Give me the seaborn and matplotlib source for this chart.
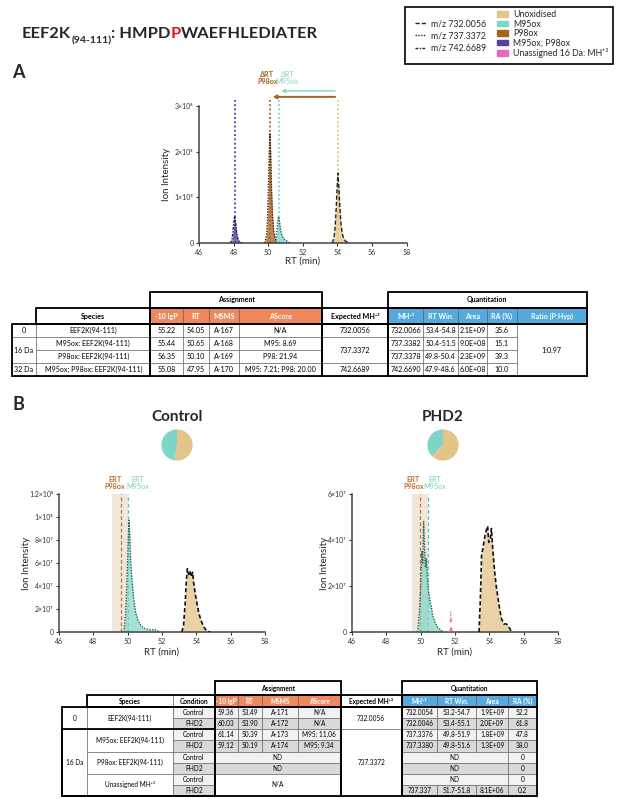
import numpy as np
import matplotlib
matplotlib.use("Agg")
import matplotlib.pyplot as plt
import seaborn as sns
from matplotlib.patches import Rectangle, Patch
from matplotlib.lines import Line2D

sns.set_style("ticks")
plt.rcParams["font.family"] = ["Lato", "DejaVu Sans"]

# ---------------- colours ----------------
col_unox = "#E3C489"
col_m95 = "#80D5C8"
col_p98 = "#A9621F"
col_double = "#5A3F9D"
col_unass = "#E56BBA"

# ---------------- chromatograms (intensity in units of 1e7) ----------------
SCALE = 1e7

# A: in vitro
a_double_rt = [47.80, 47.90, 47.96, 48.00, 48.06, 48.12, 48.17, 48.24, 48.35, 48.50]
a_double_int = [0.0, 0.5, 2.2, 4.2, 5.9, 4.3, 2.4, 0.9, 0.2, 0.0]
a_p98_rt = [49.80, 49.90, 49.96, 50.01, 50.06, 50.10, 50.14, 50.19, 50.25, 50.32, 50.40, 50.50]
a_p98_int = [0.0, 1.5, 5.0, 12.0, 20.0, 24.1, 20.0, 12.0, 6.0, 2.5, 1.0, 0.3]
a_m95_rt = [50.38, 50.45, 50.50, 50.55, 50.60, 50.65, 50.71, 50.78, 50.88, 51.00, 51.10, 51.25]
a_m95_int = [0.0, 1.0, 2.5, 4.5, 5.8, 4.8, 3.0, 1.8, 1.0, 0.6, 0.4, 0.0]
a_unox_rt = [53.70, 53.80, 53.87, 53.93, 53.98, 54.03, 54.08, 54.14, 54.20, 54.28, 54.38, 54.50, 54.70]
a_unox_int = [0.0, 1.0, 3.5, 7.5, 12.0, 15.3, 12.5, 8.0, 4.5, 2.0, 0.8, 0.3, 0.0]
a_peak_rt = [48.06, 50.10, 50.60, 54.03]
a_delta_end = {"P98ox": 50.10, "M95ox": 50.60}

# B: Control
c_m95_rt = [49.78, 49.88, 49.95, 50.02, 50.08, 50.12, 50.18, 50.25, 50.33, 50.45,
            50.60, 50.80, 51.00, 51.30, 51.60, 51.90]
c_m95_int = [0.0, 1.5, 4.0, 7.5, 9.7, 8.5, 6.0, 4.5, 3.2, 1.8, 1.0, 0.5, 0.3, 0.2, 0.2, 0.0]
c_unox_rt = [53.15, 53.25, 53.35, 53.42, 53.48, 53.55, 53.62, 53.70, 53.78, 53.85,
             53.95, 54.05, 54.15, 54.30, 54.45, 54.60, 54.80]
c_unox_int = [0.0, 0.5, 2.5, 4.5, 5.5, 5.0, 5.3, 4.8, 5.2, 4.2, 3.2, 2.4, 1.6, 0.9, 0.4, 0.1, 0.0]
c_ert = {"P98ox": 49.59, "M95ox": 50.04}
c_band = (49.09, 50.04)

# B: PHD2
p_m95_rt = [49.82, 49.92, 50.00, 50.07, 50.12, 50.17, 50.22, 50.28, 50.33, 50.38,
            50.45, 50.55, 50.62, 50.70, 50.85, 51.00, 51.30]
p_m95_int = [0.0, 0.8, 2.0, 3.5, 3.0, 4.8, 3.8, 2.8, 3.2, 2.5, 1.8, 1.3, 1.1, 0.7, 0.4, 0.2, 0.0]
p_unox_rt = [53.40, 53.48, 53.55, 53.62, 53.70, 53.78, 53.85, 53.90, 53.97, 54.05,
             54.12, 54.20, 54.30, 54.40, 54.50, 54.60, 54.70, 54.85, 55.00, 55.15, 55.30]
p_unox_int = [0.0, 1.5, 3.4, 3.6, 4.0, 4.3, 4.5, 4.6, 3.9, 4.0, 4.5, 3.6, 2.7, 2.0,
              1.5, 1.0, 0.6, 0.35, 0.35, 0.2, 0.0]
p_unass_rt = [51.65, 51.72, 51.78, 51.85]
p_unass_int = [0.0, 0.1, 0.2, 0.0]
p_unass_mark = 51.75
p_ert = {"P98ox": 49.96, "M95ox": 50.42}
p_band = (49.47, 50.44)

# pies (RA %)
pie_control = [47.8, 52.2]
pie_phd2 = [38.0, 61.8, 0.2]

# ---------------- table A ----------------
a_group = ["0", "16 Da", "32 Da"]
a_species = ["EEF2K(94-111)", "M95ox: EEF2K(94-111)", "P98ox: EEF2K(94-111)",
             "M95ox; P98ox: EEF2K(94-111)"]
a_lgp = ["55.22", "55.44", "56.35", "55.08"]
a_rt = ["54.05", "50.65", "50.10", "47.95"]
a_msms = ["A-167", "A-168", "A-169", "A-170"]
a_ascore = ["N/A", "M95: 8.69", "P98: 21.94", "M95: 7.21; P98: 20.00"]
a_expected = ["732.0056", "737.3372", "742.6689"]
a_mh = ["732.0066", "737.3382", "737.3378", "742.6690"]
a_rtwin = ["53.4-54.8", "50.4-51.5", "49.8-50.4", "47.9-48.6"]
a_area = ["2.1E+09", "9.0E+08", "2.3E+09", "6.0E+08"]
a_ra = ["35.6", "15.1", "39.3", "10.0"]
a_ratio = "1:0.97"
a_assign_cols = ["-10 lgP", "RT", "MSMS", "AScore"]
a_quant_cols = ["MH\u207a\u00b3", "RT Win.", "Area", "RA (%)", "Ratio (P:Hyp)"]

# ---------------- table B ----------------
b_group = ["0", "16 Da"]
b_species = ["EEF2K(94-111)", "M95ox: EEF2K(94-111)", "P98ox: EEF2K(94-111)",
             "Unassigned MH\u207a\u00b3"]
b_condition = ["Control", "PHD2"] * 4
b_lgp = ["59.36", "60.03", "61.14", "59.12"]
b_rt = ["53.49", "53.90", "50.39", "50.19"]
b_msms = ["A-171", "A-172", "A-173", "A-174"]
b_ascore = ["N/A", "N/A", "M95: 11.06", "M95: 9.34"]
b_expected = ["732.0056", "737.3372"]
b_mh = ["732.0054", "732.0046", "737.3376", "737.3380", "ND", "ND", "ND", "737.337"]
b_rtwin = ["53.2-54.7", "53.4-55.1", "49.8-51.9", "49.8-51.6", "", "", "", "51.7-51.8"]
b_area = ["1.9E+09", "2.0E+09", "1.8E+09", "1.3E+09", "", "", "", "8.1E+06"]
b_ra = ["52.2", "61.8", "47.8", "38.0", "0", "0", "0", "0.2"]
b_assign_cols = ["-10 lgP", "RT", "MSMS", "AScore"]
b_quant_cols = ["MH\u207a\u00b3", "RT Win.", "Area", "RA (%)"]

# ---------------- figure ----------------
W, H = 617, 799
fig = plt.figure(figsize=(W / 100, H / 100), dpi=100)
ov = fig.add_axes([0, 0, 1, 1])
ov.set_xlim(0, W)
ov.set_ylim(H, 0)
ov.axis("off")


def px_rect(x0, y0, x1, y1):
    return [x0 / W, 1 - y1 / H, (x1 - x0) / W, (y1 - y0) / H]


# title
TS = 11.8
t1 = ov.text(22, 38, "EEF2K", fontsize=TS, fontweight="bold", va="baseline")
t2 = ov.annotate("(94-111)", xy=(1, 0), xycoords=t1, xytext=(0, 3.5),
                 textcoords="offset points", fontsize=7.5, fontweight="bold", va="top")
t3 = ov.annotate(": HMPD", xy=(1, 0), xycoords=(t2, t1), fontsize=TS,
                 fontweight="bold", va="bottom")
t4 = ov.annotate("P", xy=(1, 0), xycoords=t3, fontsize=TS, fontweight="bold",
                 va="bottom", color="#E8141B")
ov.annotate("WAEFHLEDIATER", xy=(1, 0), xycoords=t4, fontsize=TS,
            fontweight="bold", va="bottom")

ov.text(12, 73, "A", fontsize=13, fontweight="bold", va="center")
ov.text(12, 405, "B", fontsize=13, fontweight="bold", va="center")

# legend
ov.add_patch(Rectangle((405, 7), 208, 57, fill=False, ec="black", lw=1.2))
line_handles = [
    Line2D([], [], color="#222", lw=1, ls=(0, (3, 1.5))),
    Line2D([], [], color="#222", lw=1, ls=(0, (1, 1))),
    Line2D([], [], color="#222", lw=1, ls=(0, (2, 1, 1, 1))),
]
leg1 = ov.legend(line_handles, ["m/z 732.0056", "m/z 737.3372", "m/z 742.6689"],
                 loc="center left", bbox_to_anchor=(415, 36), bbox_transform=ov.transData,
                 frameon=False, fontsize=6.3, handlelength=1.2, handletextpad=0.6,
                 labelspacing=0.35, borderpad=0, borderaxespad=0)
ov.add_artist(leg1)
patch_handles = [Patch(color=c) for c in [col_unox, col_m95, col_p98, col_double, col_unass]]
ov.legend(patch_handles, ["Unoxidised", "M95ox", "P98ox", "M95ox; P98ox",
                          "Unassigned 16 Da: MH\u207a\u00b3"],
          loc="center left", bbox_to_anchor=(497, 34), bbox_transform=ov.transData,
          frameon=False, fontsize=6.3, handlelength=1.2, handleheight=0.6,
          handletextpad=0.6, labelspacing=0.05, borderpad=0, borderaxespad=0)


def style_chart(ax, top, ticks, labels, ylab_x, xlab_y):
    ax.set_xlim(46, 58)
    ax.set_ylim(0, top)
    ax.set_xticks(range(46, 59, 2))
    ax.set_yticks(ticks)
    ax.set_yticklabels(labels)
    ax.tick_params(labelsize=5, length=2.5, width=0.8, pad=1.5, colors="#333")
    for s in ["left", "bottom"]:
        ax.spines[s].set_linewidth(1.1)
        ax.spines[s].set_color("#444")
    sns.despine(ax=ax)
    ax.set_xlabel("RT (min)", fontsize=7)
    ax.set_ylabel("Ion Intensity", fontsize=7)
    ax.yaxis.set_label_coords(ylab_x, 0.5)
    ax.xaxis.set_label_coords(0.5, xlab_y)
    ax.patch.set_alpha(0)


def trace(ax, rt, inten, fill, edge, ls, lw=1.0, alpha=0.75):
    y = np.array(inten) * SCALE
    ax.fill_between(rt, 0, y, color=fill, alpha=alpha, lw=0, zorder=2)
    sns.lineplot(x=rt, y=y, ax=ax, color=edge, linestyle=ls, lw=lw,
                 estimator=None, sort=False, zorder=3)


# ---- panel A chart ----
axA = fig.add_axes(px_rect(199, 106, 406.6, 243))
line_cols = [col_double, col_p98, col_m95, col_unox]
for rt0, c in zip(a_peak_rt, line_cols):
    axA.axvline(rt0, ymin=0, ymax=1.045, color=c, ls=(0, (1, 1.2)), lw=1.4,
                clip_on=False, zorder=1, alpha=0.9)
trace(axA, a_double_rt, a_double_int, col_double, "#2a2050", (0, (2, 1, 1, 1)))
trace(axA, a_p98_rt, a_p98_int, col_p98, "#3b2a18", (0, (1, 1)))
trace(axA, a_m95_rt, a_m95_int, col_m95, "#2f5f55", (0, (1, 1)))
trace(axA, a_unox_rt, a_unox_int, col_unox, "#222", (0, (3, 1.5)))
style_chart(axA, 3e8, [0, 1e8, 2e8, 3e8],
            ["0", "1\u00d710\u2078", "2\u00d710\u2078", "3\u00d710\u2078"], -0.135, -0.10)
axA.annotate("", xy=(a_delta_end["M95ox"], 3.33e8), xytext=(a_peak_rt[3], 3.33e8),
             arrowprops=dict(arrowstyle="-|>", color=col_m95, lw=1.0, mutation_scale=5),
             annotation_clip=False)
axA.annotate("", xy=(a_delta_end["P98ox"], 3.2e8), xytext=(a_peak_rt[3], 3.2e8),
             arrowprops=dict(arrowstyle="-|>", color=col_p98, lw=1.4, mutation_scale=5),
             annotation_clip=False)
axA.text(49.95, 3.47e8, "\u0394RT\nP98ox", color=col_p98, fontsize=5.2, ha="center",
         va="bottom", fontweight="bold", linespacing=1.0, clip_on=False)
axA.text(51.1, 3.47e8, "\u0394RT\nM95ox", color=col_m95, fontsize=5.2, ha="center",
         va="bottom", linespacing=1.0, clip_on=False)


# ---- panel B charts ----
def panel_b(rect, top, ticks, labels, band, ert, txt_x, m95, unox, ylab_x, unass=None):
    ax = fig.add_axes(rect)
    ax.axvspan(band[0], band[1], color="#F1E6DB", zorder=0, lw=0)
    ax.axvline(ert["P98ox"], color="#C8742E", ls=(0, (3, 2)), lw=0.9, zorder=1)
    ax.axvline(ert["M95ox"], color="#5FC4B4", ls=(0, (3, 2)), lw=0.9, zorder=1)
    trace(ax, m95[0], m95[1], col_m95, "#2f5f55", (0, (1, 1)), lw=1.0, alpha=0.7)
    trace(ax, unox[0], unox[1], col_unox, "#111", (0, (2.5, 1.5)), lw=1.2, alpha=0.75)
    if unass is not None:
        trace(ax, unass[0], unass[1], col_unass, col_unass, "-", lw=0.8)
        ax.annotate("", xy=(p_unass_mark, 0.25e7), xytext=(p_unass_mark, 1.0e7),
                    arrowprops=dict(arrowstyle="-|>", color=col_unass, lw=0.8,
                                    ls=":", mutation_scale=4))
    style_chart(ax, top, ticks, labels, ylab_x, -0.11)
    ax.text(txt_x[0], top * 1.03, "ERT\nP98ox", color="#C0702A", fontsize=5.2,
            ha="center", va="bottom", fontweight="bold", linespacing=1.0, clip_on=False)
    ax.text(txt_x[1], top * 1.03, "ERT\nM95ox", color="#7ECFC2", fontsize=5.2,
            ha="center", va="bottom", linespacing=1.0, clip_on=False)
    return ax


panel_b(px_rect(59, 494, 265, 632), 1.2e8, [0, 2e7, 4e7, 6e7, 8e7, 1e8, 1.2e8],
        ["0", "2\u00d710\u2077", "4\u00d710\u2077", "6\u00d710\u2077", "8\u00d710\u2077",
         "1\u00d710\u2078", "1.2\u00d710\u2078"],
        c_band, c_ert, (49.26, 50.6), (c_m95_rt, c_m95_int), (c_unox_rt, c_unox_int), -0.136)
panel_b(px_rect(352, 494, 558, 632), 6e7, [0, 2e7, 4e7, 6e7],
        ["0", "2\u00d710\u2077", "4\u00d710\u2077", "6\u00d710\u2077"],
        p_band, p_ert, (49.57, 50.83), (p_m95_rt, p_m95_int), (p_unox_rt, p_unox_int), -0.112,
        unass=(p_unass_rt, p_unass_int))

ov.text(177, 417, "Control", fontsize=11, fontweight="bold", ha="center", va="center")
ov.text(443, 417, "PHD2", fontsize=11, fontweight="bold", ha="center", va="center")

for cx, vals, cols in [(177, pie_control, [col_m95, col_unox]),
                       (443, pie_phd2, [col_m95, col_unox, col_unass])]:
    axp = fig.add_axes(px_rect(cx - 19.5, 445 - 19.5, cx + 19.5, 445 + 19.5))
    axp.pie(vals, colors=cols, startangle=90, counterclock=True,
            wedgeprops=dict(lw=0))
    axp.set_aspect("equal")


# ---------------- tables ----------------
ORANGE = "#F0885E"
BLUE = "#55A9DC"
LIGHT = "#F2F2F2"
GREY = "#D9D9D9"


def cell(x0, x1, y0, y1, txt="", fc="white", tc="black", bold=False, size=5.8):
    ov.add_patch(Rectangle((x0, y0), x1 - x0, y1 - y0, fc=fc, ec="#555", lw=0.4))
    if txt:
        ov.text((x0 + x1) / 2, (y0 + y1) / 2, txt, ha="center", va="center",
                fontsize=size, color=tc, fontweight="bold" if bold else "normal")


def frame(x0, x1, y0, y1, lw=1.3):
    ov.add_patch(Rectangle((x0, y0), x1 - x0, y1 - y0, fill=False, ec="black", lw=lw,
                           zorder=5))


# Table A
xa = [11.8, 36.2, 150.4, 183.1, 208.7, 239.0, 322.0, 387.8, 423.2, 457.9, 486.9, 516.9, 586.6]
ya_h1, ya_h2, ya_d, ra_h = 291.7, 308.2, 324.0, 13.08
sa = 5.1
ry = [ya_d + i * ra_h for i in range(5)]

cell(xa[2], xa[6], ya_h1, ya_h2, "Assignment", bold=True, size=sa)
cell(xa[7], xa[12], ya_h1, ya_h2, "Quantitation", bold=True, size=sa)
cell(xa[1], xa[2], ya_h2, ya_d, "Species", bold=True, size=sa)
for i, name in enumerate(a_assign_cols):
    cell(xa[2 + i], xa[3 + i], ya_h2, ya_d, name, fc=ORANGE, tc="white", bold=True, size=sa)
cell(xa[6], xa[7], ya_h2, ya_d, "Expected MH\u207a\u00b3", bold=True, size=sa)
for i, name in enumerate(a_quant_cols):
    cell(xa[7 + i], xa[8 + i], ya_h2, ya_d, name, fc=BLUE, tc="white", bold=True, size=sa)

a_spans = [(0, 1), (1, 3), (3, 4)]
for (r0, r1), g, e in zip(a_spans, a_group, a_expected):
    cell(xa[0], xa[1], ry[r0], ry[r1], g, size=sa)
    cell(xa[6], xa[7], ry[r0], ry[r1], e, size=sa)
for r in range(4):
    cell(xa[1], xa[2], ry[r], ry[r + 1], a_species[r], size=sa)
    for i, col in enumerate([a_lgp, a_rt, a_msms, a_ascore]):
        cell(xa[2 + i], xa[3 + i], ry[r], ry[r + 1], col[r], size=sa)
    for i, col in enumerate([a_mh, a_rtwin, a_area, a_ra]):
        cell(xa[7 + i], xa[8 + i], ry[r], ry[r + 1], col[r], size=sa)
cell(xa[11], xa[12], ry[0], ry[4], a_ratio, size=sa)

frame(xa[2], xa[6], ya_h1, ya_h2)
frame(xa[7], xa[12], ya_h1, ya_h2)
frame(xa[1], xa[2], ya_h2, ya_d)
frame(xa[2], xa[6], ya_h2, ya_d)
frame(xa[6], xa[7], ya_h2, ya_d)
frame(xa[7], xa[12], ya_h2, ya_d)
for x0, x1 in [(xa[0], xa[2]), (xa[2], xa[6]), (xa[6], xa[7]), (xa[7], xa[12])]:
    frame(x0, x1, ry[0], ry[4])

# Table B
xb = [62.2, 86.6, 173.2, 214.6, 237.5, 262.0, 298.0, 340.6, 401.6, 437.0, 476.4, 508.0, 536.6]
yb_h1, yb_h2, yb_d, rb_h = 681.0, 695.0, 707.3, 11.05
sb = 4.7
rb = [yb_d + i * rb_h for i in range(9)]

cell(xb[3], xb[7], yb_h1, yb_h2, "Assignment", bold=True, size=sb)
cell(xb[8], xb[12], yb_h1, yb_h2, "Quantitation", bold=True, size=sb)
cell(xb[1], xb[2], yb_h2, yb_d, "Species", bold=True, size=sb)
cell(xb[2], xb[3], yb_h2, yb_d, "Condition", bold=True, size=sb)
for i, name in enumerate(b_assign_cols):
    cell(xb[3 + i], xb[4 + i], yb_h2, yb_d, name, fc=ORANGE, tc="white", bold=True, size=sb)
cell(xb[7], xb[8], yb_h2, yb_d, "Expected MH\u207a\u00b3", bold=True, size=sb)
for i, name in enumerate(b_quant_cols):
    cell(xb[8 + i], xb[9 + i], yb_h2, yb_d, name, fc=BLUE, tc="white", bold=True, size=sb)

for (r0, r1), g, e in zip([(0, 2), (2, 8)], b_group, b_expected):
    cell(xb[0], xb[1], rb[r0], rb[r1], g, size=sb)
    cell(xb[7], xb[8], rb[r0], rb[r1], e, size=sb)
for k, sp in enumerate(b_species):
    cell(xb[1], xb[2], rb[2 * k], rb[2 * k + 2], sp, size=sb)
for r in range(8):
    shade = LIGHT if b_condition[r] == "Control" else GREY
    cell(xb[2], xb[3], rb[r], rb[r + 1], b_condition[r], fc=shade, size=sb)
    if r < 4:
        for i, col in enumerate([b_lgp, b_rt, b_msms, b_ascore]):
            cell(xb[3 + i], xb[4 + i], rb[r], rb[r + 1], col[r], fc=shade, size=sb)
    elif r < 6:
        cell(xb[3], xb[7], rb[r], rb[r + 1], "ND", fc=shade, size=sb)
    if b_mh[r] == "ND":
        cell(xb[8], xb[11], rb[r], rb[r + 1], "ND", fc=shade, size=sb)
    else:
        for i, col in enumerate([b_mh, b_rtwin, b_area]):
            cell(xb[8 + i], xb[9 + i], rb[r], rb[r + 1], col[r], fc=shade, size=sb)
    cell(xb[11], xb[12], rb[r], rb[r + 1], b_ra[r], fc=shade, size=sb)
cell(xb[3], xb[7], rb[6], rb[8], "N/A", size=sb)

frame(xb[3], xb[7], yb_h1, yb_h2)
frame(xb[8], xb[12], yb_h1, yb_h2)
frame(xb[1], xb[3], yb_h2, yb_d)
frame(xb[3], xb[7], yb_h2, yb_d)
frame(xb[7], xb[8], yb_h2, yb_d)
frame(xb[8], xb[12], yb_h2, yb_d)
for x0, x1 in [(xb[0], xb[3]), (xb[3], xb[7]), (xb[7], xb[8]), (xb[8], xb[12])]:
    frame(x0, x1, rb[0], rb[8])
frame(xb[0], xb[3], rb[2], rb[8])

fig.savefig("out.png", dpi=100)
